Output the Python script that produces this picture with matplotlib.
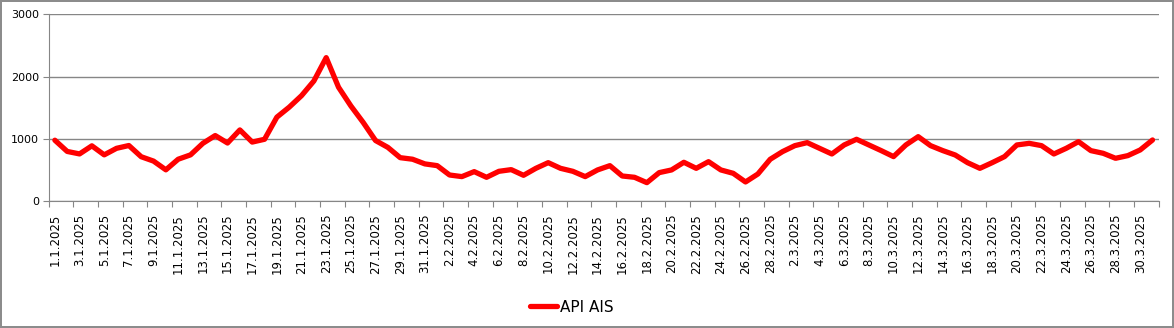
import numpy as np
import pandas as pd
import matplotlib
matplotlib.use("Agg")
import matplotlib.pyplot as plt

# daily values, 1.1.2025 - 31.3.2025
dates = pd.date_range("2025-01-01", "2025-03-31", freq="D")
labels = [f"{d.day}.{d.month}.{d.year}" for d in dates]
jan = [980, 800, 760, 890, 745, 850, 895, 715, 645, 505,
       675, 745, 930, 1055, 935, 1145, 950, 995, 1350, 1510,
       1695, 1930, 2305, 1830, 1530, 1265, 975, 865, 700, 675, 600]
feb = [572, 422, 396, 476, 385, 481, 508, 417, 529,
       620, 529, 481, 396, 503, 572, 406, 385, 299, 460,
       503, 626, 529, 636, 503, 449, 310, 438, 674]
mar = [797, 893, 941, 850, 759, 904, 995, 904, 813, 717,
       904, 1037, 893, 813, 743, 620, 529, 620, 717, 904,
       930, 893, 759, 850, 957, 813, 770, 690, 733, 824, 984]
api_ais = jan + feb + mar

GRAY = "#868686"

fig = plt.figure(figsize=(11.74, 3.28), dpi=100)
fig.patch.set_edgecolor("#8c8c8c"); fig.patch.set_linewidth(1.5)
ax = fig.add_axes([48.7 / 1174, 1 - 201.3 / 328, 1110 / 1174, 187 / 328])

x = np.arange(len(api_ais))
ax.plot(x, api_ais, color="#ff0000", lw=3.8, solid_joinstyle="round",
        solid_capstyle="round", label="API AIS")

ax.set_xlim(-0.5, len(api_ais) - 0.5)
ax.set_ylim(0, 3000)
ax.set_yticks([0, 1000, 2000, 3000])
ax.yaxis.grid(True, color=GRAY, lw=1)
ax.set_axisbelow(True)
ax.tick_params(axis="y", length=4, color=GRAY, labelsize=8, pad=3)

# tick marks between categories, labels on every 2nd category
ax.set_xticks(np.arange(-0.5, len(api_ais), 2))
ax.set_xticklabels([])
ax.set_xticks(x[::2], minor=True)
ax.set_xticklabels(labels[::2], minor=True, rotation=90, fontsize=8.5)
ax.tick_params(axis="x", which="major", length=4, color=GRAY)
ax.tick_params(axis="x", which="minor", length=0, pad=9)

for s in ["top", "right"]:
    ax.spines[s].set_visible(False)
for s in ["left", "bottom"]:
    ax.spines[s].set_color(GRAY)

fig.legend(loc="center", bbox_to_anchor=(572 / 1174, 1 - 307 / 328), frameon=False,
           fontsize=11, handlelength=1.8, handletextpad=0.2)

fig.savefig("out.png", dpi=100, edgecolor=fig.get_edgecolor())
